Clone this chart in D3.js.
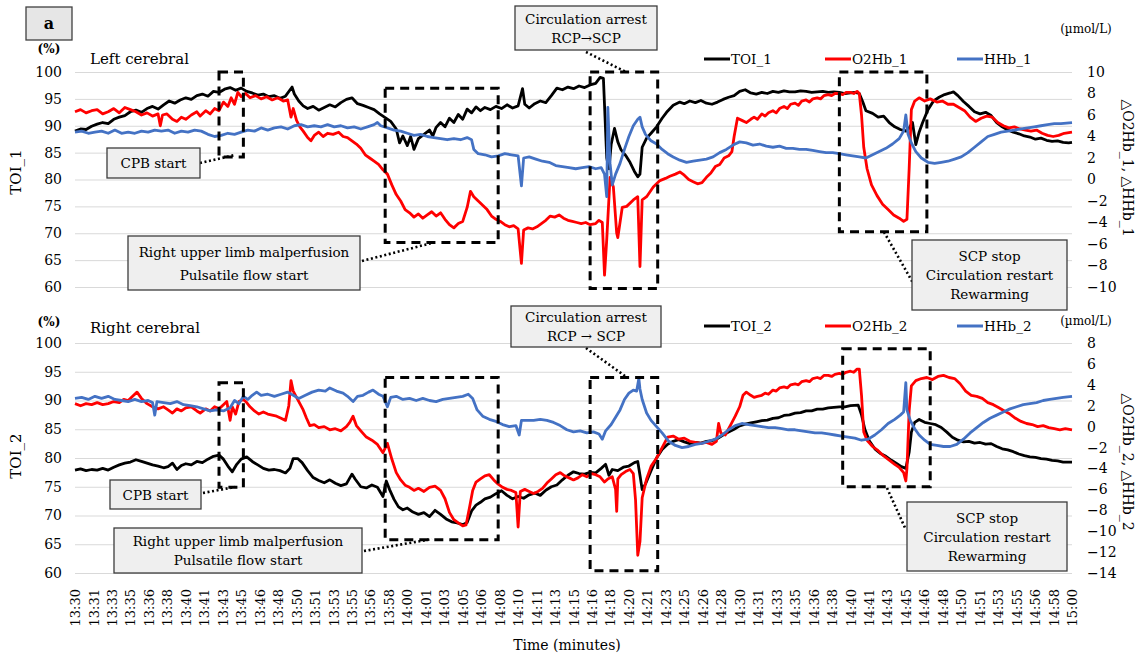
<!DOCTYPE html>
<html>
<head>
<meta charset="utf-8">
<script src="https://cdn.jsdelivr.net/npm/d3@7"></script>
<style>
  body { margin: 0; background: #fff; }
  svg { display: block; }
  text { font-family: "DejaVu Serif", "Liberation Serif", serif; fill: #000; }
</style>
</head>
<body>
<svg id="chart" width="1147" height="657"></svg>
<script>
// ---- tick labels -------------------------------------------------------
const xTickLabels = ["13:30","13:31","13:33","13:35","13:36","13:38","13:40","13:41","13:43","13:45",
  "13:46","13:48","13:50","13:51","13:53","13:55","13:56","13:58","14:00","14:01","14:03","14:05",
  "14:06","14:08","14:10","14:11","14:13","14:15","14:16","14:18","14:20","14:21","14:23","14:25",
  "14:26","14:28","14:30","14:31","14:33","14:35","14:36","14:38","14:40","14:41","14:43","14:45",
  "14:46","14:48","14:50","14:51","14:53","14:55","14:56","14:58","15:00"];
const leftTicks = [60, 65, 70, 75, 80, 85, 90, 95, 100];
const rightTicks1 = [10, 8, 6, 4, 2, 0, -2, -4, -6, -8, -10];
const rightTicks2 = [8, 6, 4, 2, 0, -2, -4, -6, -8, -10, -12, -14];

// ---- series: [minutes after 13:30, value] -----------------------------
const toi1 = [[0,89.0],[0.5,89.4],[1,89.3],[1.5,89.9],[2,90.3],[2.5,90.6],[3,90.4],[3.5,91.2],[4,91.6],[4.5,91.9],
  [5,92.6],[5.5,92.9],[6,92.5],[6.5,93.2],[7,93.6],[7.5,93.1],[8,93.9],[8.5,94.6],[9,94.2],[9.5,94.8],
  [10,95.2],[10.5,94.9],[11,95.6],[11.5,95.9],[12,95.5],[12.5,96.4],[13,96.2],[13.5,96.8],[14,97.1],[14.5,96.6],
  [15,97.0],[15.5,96.4],[16,96.1],[16.5,95.7],[17,95.9],[17.5,95.4],[18,95.6],[18.5,95.1],[19,95.5],[19.6,97.2],
  [19.8,95.9],[20.2,94.6],[20.6,93.7],[21,93.2],[21.5,93.6],[22,92.9],[22.5,93.4],[23,93.9],[23.5,93.5],[24,94.3],
  [24.5,94.9],[25,95.2],[25.5,94.1],[26,93.8],[26.5,93.4],[27,93.0],[27.5,92.2],[28,91.5],[28.5,90.8],[29,89.4],
  [29.3,86.8],[29.6,88.1],[30,86.3],[30.3,88.0],[30.6,85.6],[31,87.6],[31.5,88.4],[32,89.2],[32.3,88.1],[32.6,89.7],
  [33,90.6],[33.4,89.8],[33.8,91.4],[34.2,90.6],[34.6,92.1],[35,91.2],[35.4,93.1],[35.8,92.4],[36.2,93.5],[36.6,92.8],
  [37,93.4],[37.5,93.0],[38,93.6],[38.5,93.2],[39,93.9],[39.5,93.3],[40,93.7],[40.4,96.9],[40.6,94.0],[41,93.3],
  [41.5,94.1],[42,94.6],[42.5,94.3],[43,95.6],[43.5,97.0],[44,96.7],[44.5,97.2],[45,96.9],[45.5,97.4],[46,97.1],
  [46.5,97.6],[47,97.9],[47.4,99.0],[47.7,98.8],[48.0,84.0],[48.2,82.0],[48.4,86.5],[48.7,89.5],[49.0,87.0],[49.3,85.5],
  [49.7,84.5],[50.1,83.2],[50.5,81.5],[50.8,80.5],[51.0,81.0],[51.2,86.0],[51.6,87.7],[52,88.6],[52.5,89.8],[53,91.4],
  [53.4,92.5],[54,93.8],[54.6,94.4],[55,94.1],[55.5,94.6],[56,94.3],[56.5,94.7],[57,94.2],[57.5,94.0],[58,94.4],
  [58.5,94.9],[59,95.3],[59.5,95.6],[60,96.4],[60.5,96.7],[61,96.1],[61.5,95.9],[62,96.2],[62.5,96.0],[63,96.4],
  [63.5,96.2],[64,96.5],[64.5,96.3],[65,96.3],[65.5,96.5],[66,96.4],[66.5,96.2],[67,96.3],[67.5,96.4],[68,96.2],
  [68.5,96.3],[69,96.2],[69.5,96.0],[70,96.1],[70.4,96.2],[70.8,96.0],[71.1,94.5],[71.4,92.8],
  [72,92.3],[72.5,91.6],[73,91.8],[73.5,90.6],[74,89.8],[74.5,89.3],[75,89.0],[75.3,89.6],[75.6,90.6],[75.9,86.5],
  [76.2,88.8],[76.5,90.5],[77,93.0],[77.5,94.6],[78,95.3],[78.5,95.8],[79,96.1],[79.3,96.3],[79.7,95.6],[80.2,94.5],
  [80.7,93.6],[81.2,92.6],[81.7,92.2],[82.2,92.5],[82.7,91.9],[83.2,90.6],[83.7,89.8],[84.2,89.2],[84.7,88.8],[85.2,88.5],
  [85.7,88.1],[86.2,87.9],[86.7,87.5],[87.2,87.7],[87.7,87.3],[88.2,87.1],[88.7,87.2],[89.2,86.9],[89.7,86.8],[90,86.9]];

const o2hb1 = [[0,6.3],[0.5,6.5],[1,6.2],[1.5,6.4],[2,6.5],[2.5,6.1],[3,6.3],[3.5,6.6],[4,6.2],[4.5,6.7],
  [5,6.5],[5.5,6.3],[6,6.0],[6.5,6.2],[7,5.9],[7.5,6.1],[7.7,5.0],[7.9,6.0],[8.3,6.1],[8.8,5.6],
  [9.2,5.4],[9.6,5.8],[10,5.6],[10.5,6.0],[11,6.3],[11.3,5.9],[11.8,6.4],[12.2,6.1],[12.6,6.6],[13,6.4],
  [13.4,7.2],[13.8,6.8],[14.1,7.6],[14.4,7.0],[14.7,8.1],[15,7.7],[15.4,8.0],[15.8,7.6],[16.3,7.8],[16.8,7.5],
  [17.3,7.7],[17.8,7.4],[18.3,7.6],[18.8,7.3],[19.2,7.4],[19.5,5.8],[19.7,6.6],[20,5.5],[20.3,4.9],[20.6,4.5],
  [21,3.9],[21.3,3.6],[21.6,4.1],[22,4.4],[22.4,4.0],[22.8,4.3],[23.3,4.2],[23.8,4.4],[24.2,4.0],[24.6,3.9],
  [25,3.6],[25.4,3.3],[25.8,2.9],[26.2,2.3],[26.6,2.0],[27,1.7],[27.4,1.4],[27.8,0.9],[28.2,0.5],[28.6,-0.5],
  [29,-1.4],[29.4,-2.0],[29.8,-2.8],[30.2,-3.1],[30.6,-3.5],[31,-3.2],[31.4,-3.6],[31.8,-3.3],[32.2,-3.0],[32.6,-3.4],
  [33,-3.1],[33.4,-3.7],[33.8,-4.2],[34.2,-4.5],[34.6,-4.1],[35,-3.9],[35.4,-2.6],[35.7,-1.1],[36,-1.6],[36.4,-2.0],
  [36.8,-2.4],[37.2,-2.8],[37.6,-3.4],[38,-3.7],[38.4,-3.9],[38.8,-4.2],[39.2,-4.4],[39.6,-4.3],[40,-4.6],[40.3,-7.8],
  [40.5,-4.7],[40.9,-4.5],[41.3,-4.6],[41.7,-4.4],[42.1,-4.1],[42.5,-3.8],[42.9,-3.4],[43.3,-3.5],[43.7,-3.3],[44.1,-3.6],
  [44.5,-3.8],[44.9,-3.9],[45.3,-4.0],[45.7,-4.1],[46.1,-4.0],[46.5,-4.2],[47,-4.1],[47.3,-3.8],[47.6,-4.0],[47.8,-8.9],
  [48.0,-5.6],[48.3,0.2],[48.6,-0.7],[48.9,-5.0],[49.0,-5.4],[49.4,-2.6],[49.8,-2.5],[50.4,-1.9],[50.8,-1.6],[51.0,-8.1],
  [51.2,-1.9],[51.6,-1.6],[52.2,-0.7],[52.8,-0.1],[53.3,0.1],[53.7,0.3],[54.2,0.5],[54.6,0.7],[55,0.4],[55.4,0.0],
  [55.8,-0.2],[56.2,-0.4],[56.6,-0.3],[57.0,0.2],[57.4,0.6],[57.8,1.2],[58.2,1.4],[58.6,2.0],[59,2.2],[59.3,2.6],
  [59.5,4.0],[59.8,5.7],[60.2,5.5],[60.6,5.3],[61,5.6],[61.3,5.8],[61.6,5.6],[62,6.1],[62.3,5.9],[62.6,6.2],
  [63,6.4],[63.3,6.2],[63.6,6.6],[64,6.8],[64.3,6.6],[64.6,7.0],[65,7.1],[65.3,6.9],[65.6,7.3],[66,7.4],
  [66.3,7.2],[66.6,7.5],[67,7.6],[67.3,7.5],[67.6,7.8],[68,7.9],[68.3,7.8],[68.6,8.0],[69,8.0],[69.3,7.9],
  [69.6,8.1],[70,8.1],[70.3,8.0],[70.6,8.2],[70.8,8.0],[71.0,6.0],[71.2,3.0],[71.5,1.0],[71.9,-0.5],[72.4,-1.5],
  [72.9,-2.3],[73.4,-2.8],[73.9,-3.3],[74.4,-3.6],[74.8,-3.9],[75.1,-3.7],[75.3,1.0],[75.5,6.5],[75.8,7.3],[76.2,7.6],
  [76.7,7.3],[77.2,7.5],[77.8,7.2],[78.3,7.3],[78.8,7.0],[79.3,7.0],[79.8,6.7],[80.3,6.4],[80.8,5.8],[81.3,5.4],
  [81.8,5.7],[82.3,5.9],[82.8,5.8],[83.3,5.3],[83.8,5.0],[84.3,4.8],[84.8,4.9],[85.3,4.7],[85.8,4.6],[86.3,4.5],
  [86.8,4.6],[87.3,4.3],[87.8,4.1],[88.3,4.0],[88.8,4.1],[89.3,4.3],[90,4.4]];

const hhb1 = [[0,4.4],[0.6,4.5],[1.2,4.3],[1.8,4.4],[2.4,4.5],[3,4.3],[3.6,4.6],[4.2,4.3],[4.8,4.4],[5.4,4.3],
  [6,4.5],[6.6,4.4],[7.2,4.6],[7.8,4.5],[8.4,4.6],[9,4.3],[9.6,4.5],[10.2,4.4],[10.8,4.6],[11.4,4.5],
  [12,4.2],[12.6,4.0],[13.2,4.1],[13.8,4.3],[14.4,4.2],[15,4.4],[15.6,4.6],[16.2,4.5],[16.8,4.8],[17.4,4.6],
  [18,4.8],[18.6,4.9],[19.2,4.7],[19.8,5.0],[20.4,5.1],[21,4.9],[21.6,5.0],[22.2,4.9],[22.8,5.1],[23.4,4.9],
  [24,5.0],[24.6,4.8],[25.2,4.9],[25.8,4.7],[26.4,4.9],[27,5.1],[27.3,5.3],[27.6,5.0],[28.2,4.8],[28.8,4.6],
  [29.4,4.5],[30,4.3],[30.6,4.1],[31.2,4.2],[31.8,4.0],[32.4,3.9],[33,3.8],[33.6,3.7],[34.2,3.8],[34.8,3.7],
  [35.4,3.9],[35.8,3.7],[36.0,2.8],[36.4,2.4],[37,2.3],[37.6,2.1],[38.2,2.2],[38.8,2.4],[39.4,2.3],[40,2.2],
  [40.3,-0.6],[40.5,2.0],[41,2.1],[41.6,1.9],[42.2,1.7],[42.8,1.6],[43.4,1.3],[44,1.2],[44.6,1.1],[45.2,1.0],
  [45.8,1.1],[46.4,1.2],[47,1.0],[47.5,1.1],[47.8,0.5],[48.0,-1.6],[48.1,6.7],[48.3,1.5],[48.5,-0.5],[48.8,0.5],
  [49.2,1.5],[49.6,2.8],[50.0,4.0],[50.4,5.0],[50.8,5.6],[51.0,5.8],[51.2,4.9],[51.5,4.2],[52,3.6],[52.5,3.3],
  [53,2.8],[53.5,2.4],[54,2.1],[54.6,1.8],[55.2,1.6],[55.8,1.7],[56.4,1.8],[57,1.9],[57.6,2.1],[58.2,2.5],
  [58.8,2.8],[59.4,3.2],[60,3.5],[60.6,3.4],[61.2,3.2],[61.8,3.3],[62.4,3.1],[63,3.0],[63.6,3.1],[64.2,2.9],
  [64.8,2.9],[65.4,2.8],[66,2.8],[66.6,2.7],[67.2,2.6],[67.8,2.5],[68.4,2.5],[69,2.4],[69.6,2.3],[70.2,2.2],
  [70.8,2.1],[71.4,2.0],[72,2.3],[72.6,2.6],[73.2,2.9],[73.8,3.3],[74.4,3.8],[74.8,4.5],[75.0,6.0],[75.2,4.2],
  [75.5,3.4],[75.9,2.6],[76.4,2.0],[77,1.6],[77.6,1.5],[78.2,1.6],[78.8,1.7],[79.4,1.9],[80,2.1],[80.6,2.5],
  [81.2,3.0],[81.8,3.5],[82.4,4.0],[83,4.2],[83.6,4.4],[84.2,4.5],[84.8,4.6],[85.4,4.7],[86,4.8],[86.6,4.9],
  [87.2,5.0],[87.8,5.1],[88.4,5.2],[89,5.2],[90,5.3]];

const toi2 = [[0,77.9],[0.5,78.1],[1,77.8],[1.5,78.0],[2,77.9],[2.5,78.2],[3,77.9],[3.5,78.4],[4,78.8],[4.5,79.1],
  [5,79.3],[5.5,79.7],[6,79.4],[6.5,79.1],[7,78.8],[7.5,78.6],[8,78.3],[8.4,78.5],[8.8,79.1],[9.2,78.0],
  [9.6,78.7],[10,79.0],[10.5,78.8],[11,79.4],[11.5,79.2],[12,79.8],[12.5,80.3],[13,80.5],[13.4,79.8],[13.8,78.6],
  [14.2,77.6],[14.6,78.9],[15,79.8],[15.5,80.2],[16,79.4],[16.5,78.8],[17,78.2],[17.5,77.9],[18,78.0],[18.5,77.8],
  [19,77.4],[19.4,78.2],[19.7,79.9],[20.1,79.9],[20.5,79.2],[21,77.8],[21.5,76.6],[22,76.1],[22.5,75.7],[23,76.2],
  [23.5,75.6],[24,75.2],[24.5,75.5],[25,77.2],[25.3,76.3],[25.8,75.0],[26.3,74.8],[26.8,75.3],[27.3,74.9],[27.8,73.3],
  [28.1,76.0],[28.4,74.5],[28.8,72.8],[29.2,71.5],[29.6,71.0],[30,71.3],[30.5,70.6],[31,70.2],[31.5,70.5],[32,69.8],
  [32.5,70.9],[33,70.2],[33.5,69.4],[34,68.9],[34.5,68.7],[35,68.4],[35.4,68.8],[35.8,70.8],[36.2,71.8],[36.6,72.3],
  [37,72.9],[37.5,73.2],[38,73.8],[38.5,74.3],[39,73.5],[39.5,72.9],[40,73.3],[40.5,73.0],[41,73.6],[41.5,73.9],
  [42,73.5],[42.5,74.4],[43,75.0],[43.5,75.3],[44,76.2],[44.5,77.0],[45,77.6],[45.5,77.3],[46,77.2],[46.5,77.5],
  [47,77.4],[47.5,78.2],[47.9,78.9],[48.2,77.0],[48.5,78.0],[49,77.8],[49.5,78.4],[50,78.6],[50.5,79.2],[50.8,79.4],
  [51.0,77.0],[51.2,74.5],[51.5,75.5],[52,77.8],[52.5,80.0],[53,81.5],[53.5,82.4],[54,82.9],[54.5,83.2],[55,82.8],
  [55.5,82.5],[56,82.7],[56.5,82.6],[57,82.9],[57.5,83.0],[58,83.4],[58.5,84.0],[59,84.5],[59.5,85.0],[60,85.6],
  [60.5,85.9],[61,86.1],[61.5,86.3],[62,86.5],[62.5,86.6],[63,86.9],[63.5,87.0],[64,87.4],[64.5,87.5],[65,87.8],
  [65.5,87.9],[66,88.2],[66.5,88.2],[67,88.5],[67.5,88.5],[68,88.7],[68.5,88.8],[69,88.9],[69.5,88.9],[70,89.1],
  [70.7,89.2],[71.0,87.5],[71.3,85.0],[71.7,83.0],[72.2,81.6],[72.7,80.8],[73.2,80.3],[73.7,79.6],
  [74.2,79.0],[74.6,78.5],[75.0,78.2],[75.3,81.0],[75.5,84.5],[75.8,86.2],[76.2,86.7],[76.7,86.2],[77.2,86.0],[77.7,85.8],
  [78.2,85.3],[78.7,84.5],[79.2,83.6],[79.7,83.1],[80.2,82.8],[80.7,82.9],[81.2,82.6],[81.7,82.7],[82.2,82.4],[82.7,82.5],
  [83.2,82.0],[83.7,81.6],[84.2,81.4],[84.7,81.1],[85.2,80.7],[85.7,80.4],[86.2,80.2],[86.7,80.1],[87.2,79.9],[87.7,79.8],
  [88.2,79.6],[88.7,79.5],[89.2,79.3],[90,79.3]];

const o2hb2 = [[0,2.2],[0.5,2.0],[1,2.2],[1.5,2.1],[2,2.3],[2.5,2.1],[3,2.2],[3.5,2.4],[4,2.3],[4.4,2.6],
  [4.8,2.5],[5.2,2.9],[5.6,3.3],[6,2.7],[6.5,2.2],[7,1.9],[7.5,1.7],[8,1.9],[8.4,1.6],[8.8,1.3],
  [9.2,1.7],[9.6,1.5],[10,1.8],[10.5,1.9],[11,1.5],[11.3,1.3],[11.8,1.7],[12.2,1.5],[12.6,1.9],[13,1.7],
  [13.4,2.1],[13.7,2.4],[14.0,0.6],[14.2,1.9],[14.5,1.2],[14.8,2.4],[15.2,2.6],[15.5,2.3],[15.8,1.9],[16.2,1.5],
  [16.6,1.2],[17,1.4],[17.4,1.2],[17.8,1.1],[18.2,1.0],[18.6,0.8],[19,0.6],[19.3,2.0],[19.5,4.4],[19.7,3.4],
  [20,2.8],[20.3,2.2],[20.6,1.6],[20.9,0.8],[21.2,0.1],[21.6,0.2],[22,-0.1],[22.5,0.0],[23,-0.3],[23.5,-0.2],
  [24,-0.4],[24.5,0.0],[24.8,0.4],[25.1,1.0],[25.4,0.1],[25.8,-0.4],[26.3,-1.0],[26.8,-1.3],[27.3,-1.7],[27.8,-2.5],
  [28.2,-1.6],[28.6,-3.1],[29,-4.4],[29.4,-5.1],[29.8,-5.6],[30.2,-5.8],[30.6,-6.1],[31,-5.9],[31.5,-6.2],[32,-5.8],
  [32.5,-5.7],[33,-6.1],[33.4,-6.9],[33.8,-8.2],[34.2,-8.9],[34.6,-9.2],[35,-9.5],[35.3,-9.4],[35.6,-7.8],[35.9,-6.1],
  [36.2,-5.3],[36.6,-5.0],[37,-4.7],[37.4,-4.6],[37.8,-5.1],[38.2,-5.5],[38.6,-5.8],[39,-6.0],[39.4,-6.1],[39.8,-6.3],
  [40.0,-9.6],[40.2,-6.2],[40.6,-6.0],[41,-6.2],[41.4,-6.4],[41.8,-6.2],[42.2,-5.9],[42.6,-5.4],[43,-5.0],[43.4,-4.6],
  [43.8,-4.4],[44.2,-4.7],[44.6,-4.9],[45,-5.1],[45.4,-4.9],[45.8,-4.6],[46.2,-4.8],[46.6,-4.5],[47,-4.6],[47.4,-4.8],
  [47.8,-5.3],[48.1,-5.0],[48.5,-4.8],[48.8,-6.0],[48.9,-8.1],[49.0,-5.0],[49.3,-4.6],[49.7,-4.3],[50.1,-4.1],[50.4,-4.5],
  [50.6,-7.0],[50.8,-12.3],[51.0,-11.0],[51.2,-6.8],[51.6,-5.0],[52,-3.8],[52.5,-3.0],[53,-2.0],[53.5,-1.0],[54,-0.9],
  [54.5,-1.2],[55,-1.1],[55.5,-1.4],[56,-1.5],[56.5,-1.6],[57,-1.5],[57.5,-1.7],[57.9,-1.4],[58.1,0.3],[58.3,-0.6],
  [58.7,-0.8],[59.2,0.2],[59.6,1.0],[60.0,1.9],[60.3,3.0],[60.6,3.3],[61,3.0],[61.3,2.8],[61.6,2.9],[62,3.0],
  [62.3,3.2],[62.6,3.1],[63,3.5],[63.3,3.4],[63.6,3.7],[64,3.8],[64.3,3.7],[64.6,4.0],[65,4.1],[65.3,4.0],
  [65.6,4.3],[66,4.4],[66.3,4.3],[66.6,4.6],[67,4.7],[67.3,4.6],[67.6,4.9],[68,4.9],[68.3,4.8],[68.6,5.0],
  [69,5.1],[69.3,5.0],[69.6,5.2],[70,5.3],[70.3,5.2],[70.6,5.5],[70.8,5.5],[71.0,3.0],[71.2,-0.5],[71.5,-1.3],
  [72,-1.9],[72.5,-2.3],[73,-2.8],[73.5,-3.2],[74,-3.6],[74.4,-3.9],[74.8,-4.4],[75.0,-5.2],[75.1,-4.0],[75.3,1.5],
  [75.5,3.9],[75.9,4.4],[76.4,4.6],[76.9,4.7],[77.4,4.5],[77.9,4.8],[78.4,4.9],[78.9,4.7],[79.4,4.6],[79.9,4.1],
  [80.4,3.4],[80.9,3.0],[81.4,2.9],[81.9,2.7],[82.4,2.3],[82.9,2.1],[83.4,1.8],[83.9,1.5],[84.4,1.2],[84.9,0.8],
  [85.4,0.5],[85.9,0.3],[86.4,0.2],[86.9,0.0],[87.4,0.1],[87.9,-0.1],[88.4,-0.2],[88.9,-0.3],[89.4,-0.2],[90,-0.3]];

const hhb2 = [[0,2.7],[0.6,2.8],[1.2,2.6],[1.8,2.9],[2.4,2.7],[3,2.9],[3.6,2.6],[4.2,2.5],[4.8,2.4],[5.4,2.6],
  [6,2.4],[6.6,2.5],[7.0,2.3],[7.2,1.1],[7.4,2.4],[8,2.3],[8.6,2.2],[9.2,2.4],[9.8,2.1],[10.4,2.0],
  [11,1.9],[11.6,1.7],[12.2,1.5],[12.8,1.6],[13.4,1.5],[14,1.8],[14.4,2.5],[14.8,2.2],[15.2,2.9],[15.6,2.6],
  [16,3.0],[16.4,3.3],[16.8,3.0],[17.4,3.1],[18,2.9],[18.6,3.1],[19.2,3.3],[19.7,3.0],[20.2,2.7],[20.8,3.0],
  [21.4,3.3],[22,3.5],[22.6,3.4],[23,3.7],[23.6,3.4],[24.2,3.2],[24.6,2.9],[25.1,2.4],[25.5,2.9],[26,3.0],
  [26.5,3.3],[26.9,3.5],[27.4,3.1],[27.8,2.9],[28.2,1.9],[28.5,2.8],[29,2.9],[29.6,2.6],[30.2,2.7],[30.8,2.5],
  [31.4,2.7],[32,2.5],[32.6,2.4],[33.2,2.6],[33.8,2.7],[34.4,2.8],[35,2.9],[35.5,3.1],[35.9,2.7],[36.3,1.6],
  [36.8,1.0],[37.4,0.7],[38,0.5],[38.6,0.2],[39.2,0.0],[39.8,0.1],[40.1,-0.8],[40.3,0.6],[40.8,0.6],[41.4,0.6],
  [42,0.7],[42.6,0.6],[43.2,0.4],[43.8,0.1],[44.4,-0.3],[45,-0.5],[45.6,-0.4],[46.2,-0.6],[46.8,-0.5],[47.3,-0.7],
  [47.6,-1.2],[47.9,-0.4],[48.4,0.2],[48.8,0.9],[49.2,1.6],[49.6,2.6],[50,3.2],[50.4,3.5],[50.7,3.4],[50.9,4.6],
  [51.0,3.6],[51.2,2.6],[51.6,1.3],[52,0.6],[52.5,0.0],[53,-0.6],[53.6,-1.4],[54.2,-1.8],[54.8,-2.0],[55.4,-1.9],
  [56,-1.7],[56.6,-1.6],[57.2,-1.4],[57.8,-1.2],[58.4,-0.8],[59,-0.3],[59.6,0.1],[60.2,0.3],[60.8,0.2],[61.4,0.1],
  [62,0.0],[62.6,-0.1],[63.2,-0.1],[63.8,-0.2],[64.4,-0.3],[65,-0.3],[65.6,-0.4],[66.2,-0.5],[66.8,-0.6],[67.4,-0.6],
  [68,-0.7],[68.6,-0.8],[69.2,-0.9],[69.8,-1.0],[70.4,-1.1],[71,-1.3],[71.6,-1.2],[72.2,-0.8],[72.8,-0.3],[73.4,0.3],
  [74,0.7],[74.5,1.1],[74.8,1.4],[75.0,4.2],[75.1,1.6],[75.4,0.6],[75.8,-0.2],[76.2,-0.8],[76.7,-1.3],[77.2,-1.7],
  [77.8,-1.8],[78.4,-1.9],[79,-1.9],[79.6,-1.7],[80.2,-1.2],[80.8,-0.6],[81.4,-0.1],[82,0.4],[82.6,0.8],[83.2,1.1],
  [83.8,1.4],[84.4,1.7],[85,1.9],[85.6,2.1],[86.2,2.2],[86.8,2.3],[87.4,2.5],[88,2.6],[88.6,2.7],[89.2,2.8],[90,2.9]];

// ---- event boxes on each panel: [start min, end min, top %, bottom %] ----
const events1 = [[13.0, 15.2, 100, 84.2], [28.0, 38.2, 97.0, 68.3], [46.5, 52.6, 100, 59.7], [69.0, 76.9, 100, 70.3]];
const events2 = [[13.0, 15.2, 93.1, 74.9], [28.0, 38.2, 94.0, 65.8], [46.5, 52.6, 94.0, 60.4], [69.3, 77.2, 99.0, 75.0]];

// ---- layout -------------------------------------------------------------
const svg = d3.select("#chart");
const colors = { toi: "#000000", o2hb: "#ff0000", hhb: "#4472c4" };
const x = d3.scaleLinear().domain([0, 90]).range([75, 1072]);
const xTickPos = xTickLabels.map((_, i) => i * 90 / (xTickLabels.length - 1));

const panels = [
  { idx: "1", top: 72, bottom: 287, rightDomain: [-10, 10], rightTicks: rightTicks1,
    toi: toi1, o2hb: o2hb1, hhb: hhb1, events: events1, title: "Left cerebral",
    legendY: 59, unitY: 33, pctY: 53, titleY: 64, rightTitleY: 168, leftTitleY: 172 },
  { idx: "2", top: 343, bottom: 573, rightDomain: [-14, 8], rightTicks: rightTicks2,
    toi: toi2, o2hb: o2hb2, hhb: hhb2, events: events2, title: "Right cerebral",
    legendY: 326, unitY: 325, pctY: 326, titleY: 333, rightTitleY: 462, leftTitleY: 456 }
];

panels.forEach(p => {
  const yL = d3.scaleLinear().domain([60, 100]).range([p.bottom, p.top]);
  const yR = d3.scaleLinear().domain(p.rightDomain).range([p.bottom, p.top]);
  const g = svg.append("g");

  // horizontal gridlines + left tick labels
  const gl = g.append("g").attr("transform", `translate(${x.range()[0]},0)`)
    .call(d3.axisLeft(yL).tickValues(leftTicks).tickSize(-(x.range()[1] - x.range()[0])).tickPadding(13));
  gl.select(".domain").remove();
  gl.selectAll(".tick line").attr("stroke", "#d9d9d9").attr("stroke-width", 1);
  gl.selectAll(".tick text").attr("font-size", 14).attr("font-family", "DejaVu Serif").attr("fill", "#000");

  // right tick labels
  const gr = g.append("g").attr("transform", `translate(1077,0)`)
    .call(d3.axisRight(yR).tickValues(p.rightTicks).tickSize(0).tickPadding(10));
  gr.select(".domain").remove();
  gr.selectAll(".tick text").attr("font-size", 14).attr("font-family", "DejaVu Serif").attr("fill", "#000");

  // series (secondary-axis series drawn on top)
  const lineL = d3.line().x(d => x(d[0])).y(d => yL(d[1]));
  const lineR = d3.line().x(d => x(d[0])).y(d => yR(d[1]));
  [[p.toi, lineL, colors.toi], [p.o2hb, lineR, colors.o2hb], [p.hhb, lineR, colors.hhb]].forEach(([data, gen, c]) => {
    g.append("path").datum(data).attr("d", gen).attr("fill", "none")
      .attr("stroke", c).attr("stroke-width", 2.8).attr("stroke-linejoin", "round");
  });

  // dashed event boxes
  g.selectAll("rect.ev").data(p.events).join("rect").attr("class", "ev")
    .attr("x", d => x(d[0])).attr("y", d => yL(d[2]))
    .attr("width", d => x(d[1]) - x(d[0])).attr("height", d => yL(d[3]) - yL(d[2]))
    .attr("fill", "none").attr("stroke", "#000").attr("stroke-width", 3)
    .attr("stroke-dasharray", "9,6");

  // axis titles and units
  g.append("text").attr("x", 49).attr("y", p.pctY).attr("text-anchor", "middle")
    .attr("font-size", 12).attr("font-weight", "bold").text("(%)");
  g.append("text").attr("x", 90).attr("y", p.titleY).attr("font-size", 15).text(p.title);
  g.append("text").attr("transform", `translate(21,${p.leftTitleY}) rotate(-90)`)
    .attr("text-anchor", "middle").attr("font-size", 15).text("TOI_" + p.idx);
  g.append("text").attr("x", 1086).attr("y", p.unitY).attr("text-anchor", "middle")
    .attr("font-size", 12).text("(µmol/L)");
  g.append("text").attr("transform", `translate(1123,${p.rightTitleY}) rotate(90)`)
    .attr("text-anchor", "middle").attr("font-size", 14)
    .text(`△O2Hb_${p.idx}, △HHb_${p.idx}`);

  // legend
  const legend = [["TOI_" + p.idx, colors.toi, 704], ["O2Hb_" + p.idx, colors.o2hb, 825], ["HHb_" + p.idx, colors.hhb, 957]];
  legend.forEach(([label, c, lx]) => {
    g.append("line").attr("x1", lx).attr("x2", lx + 26).attr("y1", p.legendY).attr("y2", p.legendY)
      .attr("stroke", c).attr("stroke-width", 3);
    g.append("text").attr("x", lx + 27).attr("y", p.legendY + 5).attr("font-size", 13.5).text(label);
  });
});

// ---- x axis (shared, under the lower panel) ------------------------------
const gx = svg.append("g").attr("transform", "translate(0,576)")
  .call(d3.axisBottom(x).tickValues(xTickPos).tickSize(0).tickFormat((d, i) => xTickLabels[i]));
gx.select(".domain").remove();
gx.selectAll(".tick text").attr("font-size", 13).attr("font-family", "DejaVu Serif").attr("fill", "#000")
  .attr("text-anchor", "end").attr("transform", "rotate(-90)").attr("x", -13).attr("y", 0).attr("dy", "0.35em");
svg.append("text").attr("x", 567).attr("y", 650).attr("text-anchor", "middle").attr("font-size", 14).text("Time (minutes)");

// ---- panel tag ------------------------------------------------------------
svg.append("rect").attr("x", 26).attr("y", 7).attr("width", 46).attr("height", 33)
  .attr("fill", "#e6e6e6").attr("stroke", "#404040").attr("stroke-width", 1.3);
svg.append("text").attr("x", 49).attr("y", 29).attr("text-anchor", "middle")
  .attr("font-size", 16).attr("font-weight", "bold").text("a");

// ---- callouts -------------------------------------------------------------
const callouts = [
  { box: [107, 148, 93, 30], lines: ["CPB start"], lead: [[200, 163], [235, 155]] },
  { box: [128, 236, 232, 54], lines: ["Right upper limb malperfusion", "Pulsatile flow start"], lead: [[362, 261], [432, 243]] },
  { box: [515, 6, 142, 44], lines: ["Circulation arrest", "RCP→SCP"], lead: [[586, 52], [626, 72]] },
  { box: [912, 240, 155, 70], lines: ["SCP stop", "Circulation restart", "Rewarming"], lead: [[884, 232], [913, 283]] },
  { box: [110, 480, 91, 29], lines: ["CPB start"], lead: [[203, 493], [235, 487]] },
  { box: [114, 528, 248, 45], lines: ["Right upper limb malperfusion", "Pulsatile flow start"], lead: [[364, 551], [432, 539]] },
  { box: [511, 306, 150, 41], lines: ["Circulation arrest", "RCP → SCP"], lead: [[586, 348], [625, 376]] },
  { box: [907, 502, 160, 69], lines: ["SCP stop", "Circulation restart", "Rewarming"], lead: [[887, 488], [906, 530]] }
];
callouts.forEach(c => {
  const [bx, by, bw, bh] = c.box;
  svg.append("line").attr("x1", c.lead[0][0]).attr("y1", c.lead[0][1])
    .attr("x2", c.lead[1][0]).attr("y2", c.lead[1][1])
    .attr("stroke", "#000").attr("stroke-width", 2.6).attr("stroke-dasharray", "2,2.6");
  svg.append("rect").attr("x", bx).attr("y", by).attr("width", bw).attr("height", bh)
    .attr("fill", "#efefef").attr("stroke", "#3c3c3c").attr("stroke-width", 1.3);
  const lh = c.lines.length === 3 ? 19 : (c.lines.length === 2 ? (bh > 48 ? 23 : 19) : 0);
  const cy = by + bh / 2;
  c.lines.forEach((t, i) => {
    svg.append("text").attr("x", bx + bw / 2)
      .attr("y", cy + (i - (c.lines.length - 1) / 2) * lh + 5)
      .attr("text-anchor", "middle").attr("font-size", 13.5).text(t);
  });
});
</script>
</body>
</html>
